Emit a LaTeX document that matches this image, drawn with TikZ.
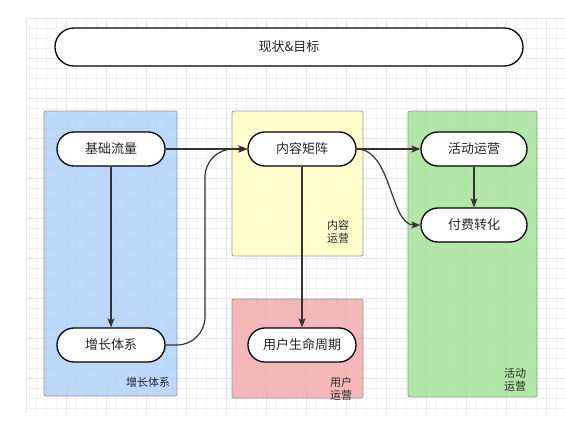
\documentclass[tikz,border=0pt]{standalone}
\usepackage{fontspec}
\setmainfont{Noto Sans CJK SC}
\usetikzlibrary{arrows.meta}
\definecolor{gridfine}{RGB}{241,241,241}
\definecolor{gridmajor}{RGB}{230,230,230}
\definecolor{zone blue}{RGB}{176,210,250}
\definecolor{zone yellow}{RGB}{255,255,196}
\definecolor{zone red}{RGB}{242,172,172}
\definecolor{zone green}{RGB}{166,227,154}
\definecolor{linkc}{RGB}{51,51,51}
\begin{document}
\begin{tikzpicture}[x=1pt,y=-1pt,
  zone/.style={draw=black!40,line width=0.8pt,rounded corners=2pt,fill opacity=0.85},
  zonelabel/.style={font=\fontsize{11}{12.5}\selectfont,align=right,text=black!85},
  pill/.style={draw=black,line width=1.3pt,fill=white,rounded corners=16.9pt,
    minimum width=108pt,minimum height=34pt,inner sep=0pt,font=\fontsize{13}{15}\selectfont,text=black!85},
  link/.style={draw=linkc,line width=1.2pt,-{Stealth[length=9pt,width=7pt,inset=2pt]}}]
\useasboundingbox (0,0) rectangle (565,423);
% background grid
\foreach \x in {26,36,...,556} {\draw[gridfine,line width=0.5pt] (\x,18) -- (\x,413);}
\foreach \y in {18,28,...,408} {\draw[gridfine,line width=0.5pt] (26,\y) -- (565,\y);}
\foreach \x in {26,66,...,546} {\draw[gridmajor,line width=0.6pt] (\x,18) -- (\x,413);}
\foreach \y in {18,58,...,398} {\draw[gridmajor,line width=0.6pt] (26,\y) -- (565,\y);}
% zones
\draw[zone,fill=zone blue] (44,111) rectangle (177,396);
\draw[zone,fill=zone yellow] (232,111) rectangle (363,256);
\draw[zone,fill=zone red] (232,299) rectangle (363,398);
\draw[zone,fill=zone green] (408,111) rectangle (537,397);
\node[zonelabel] (lgrowth) at (148,382) {增长体系};
\node[zonelabel] (lcontent) at (338,232) {内容\\运营};
\node[zonelabel] (luser) at (341,389) {用户\\运营};
\node[zonelabel] (lactivity) at (515,380) {活动\\运营};
% title
\node[pill,minimum width=468pt,minimum height=38pt,rounded corners=18.9pt] (goal) at (289,47) {现状\&目标};
% steps
\node[pill] (base) at (111,149) {基础流量};
\node[pill] (growth) at (111,345) {增长体系};
\node[pill] (matrix) at (302,149) {内容矩阵};
\node[pill] (lifecycle) at (302,345) {用户生命周期};
\node[pill,minimum width=106pt] (campaign) at (474,149) {活动运营};
\node[pill,minimum width=106pt] (paying) at (474,225) {付费转化};
% links
\draw[link] (base) -- (growth);
\draw[link] (base) -- (matrix);
\draw[link,rounded corners=28pt] (growth.east) -| (205,247) |- (matrix.west);
\draw[link] (matrix) -- (lifecycle);
\draw[link] (matrix) -- (campaign);
\draw[link] (matrix.east) .. controls (392,149) and (390,225) .. (paying.west);
\draw[link] (campaign) -- (paying);
\end{tikzpicture}
\end{document}
